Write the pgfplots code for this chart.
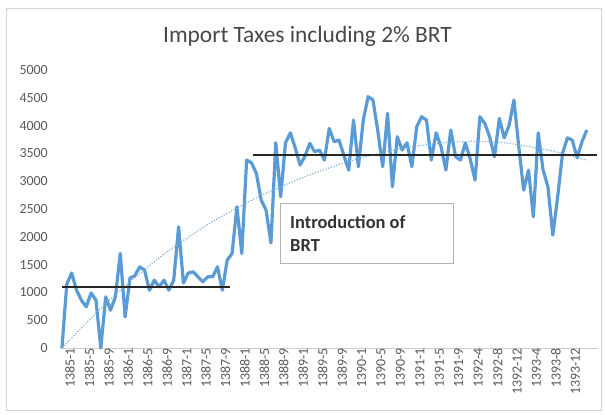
\documentclass[border=0pt]{standalone}
\usepackage{pgfplots}
\pgfplotsset{compat=1.18}
\usepackage{fontspec}
\setmainfont{Carlito}
\definecolor{serblue}{HTML}{5B9BD5}
\definecolor{txtgray}{HTML}{595959}
\definecolor{titlegray}{HTML}{474747}
\begin{document}
\begin{tikzpicture}
\path[use as bounding box] (0bp,0bp) rectangle (605bp,415bp);
\draw[gray!35] (6bp,5bp) rectangle (601bp,407bp);
\begin{axis}[
  at={(60bp,67bp)}, anchor=south west, scale only axis,
  width=538bp, height=278bp,
  xmin=-0.4, xmax=110.3, ymin=0, ymax=5000,
  ytick={0,500,...,5000},
  xtick={0,4,...,104},
  xticklabels={1385-1,1385-5,1385-9,1386-1,1386-5,1386-9,1387-1,1387-5,1387-9,1388-1,1388-5,1388-9,1389-1,1389-5,1389-9,1390-1,1390-5,1390-9,1391-1,1391-5,1391-9,1392-4,1392-8,1392-12,1393-4,1393-8,1393-12},
  axis lines*=left,
  x axis line style={draw=gray!40, line width=0.8bp},
  y axis line style={draw=none},
  major tick length=0pt,
  tick label style={font=\fontsize{14}{16}\selectfont, text=txtgray, inner sep=0pt},
  yticklabel style={anchor=east, xshift=-12bp},
  xticklabel style={rotate=90, anchor=east, yshift=-8bp},
  /pgf/number format/assume math mode=true,
  /pgf/number format/1000 sep={},
  scaled y ticks=false,
  clip=false,
]
\addplot[serblue, line width=3.2bp, line join=round, no markers] table {
x y
0 0
1 1150
2 1350
3 1040
4 860
5 740
6 990
7 860
8 0
9 920
10 680
11 920
12 1700
13 560
14 1260
15 1300
16 1460
17 1400
18 1040
19 1220
20 1100
21 1220
22 1040
23 1220
24 2180
25 1170
26 1350
27 1370
28 1280
29 1190
30 1280
31 1280
32 1460
33 1040
34 1580
35 1700
36 2540
37 1700
38 3380
39 3330
40 3140
41 2660
42 2480
43 1890
44 3690
45 2720
46 3690
47 3870
48 3600
49 3290
50 3450
51 3680
52 3530
53 3560
54 3380
55 3950
56 3710
57 3740
58 3470
59 3200
60 4100
61 3260
62 4100
63 4520
64 4460
65 3900
66 3260
67 4220
68 2900
69 3800
70 3560
71 3690
72 3260
73 3980
74 4160
75 4100
76 3380
77 3870
78 3620
79 3200
80 3920
81 3440
82 3380
83 3690
84 3400
85 3020
86 4160
87 4040
88 3800
89 3440
90 4130
91 3780
92 4000
93 4460
94 3620
95 2840
96 3200
97 2360
98 3870
99 3200
100 2900
101 2030
102 2720
103 3500
104 3780
105 3740
106 3420
107 3710
108 3920
};
\addplot[serblue!80, line width=1.1bp, dash pattern=on 1.2bp off 1.6bp, smooth, no markers] table {
x y
0 0
10 880
20 1620
30 2220
40 2700
50 3080
60 3380
70 3590
80 3700
90 3700
100 3560
108 3380
};
\addplot[black!85, line width=1.4bp, no markers] table {
x y
0 1100
34.6 1100
};
\addplot[black!85, line width=1.4bp, no markers] table {
x y
39.3 3470
110 3470
};
\end{axis}
\node[font=\fontsize{23.5}{27}\selectfont, text=titlegray] at (307.5bp,379bp) {Import Taxes including 2\% BRT};
\draw[gray!60, fill=white, line width=0.6bp] (280bp,152bp) rectangle (453bp,212bp);
\node[anchor=west, font=\bfseries\fontsize{18.5}{22}\selectfont, text=black!80, inner sep=0pt] at (290bp,193bp) {Introduction of};
\node[anchor=west, font=\bfseries\fontsize{18.5}{22}\selectfont, text=black!80, inner sep=0pt] at (290bp,169bp) {BRT};
\end{tikzpicture}
\end{document}
